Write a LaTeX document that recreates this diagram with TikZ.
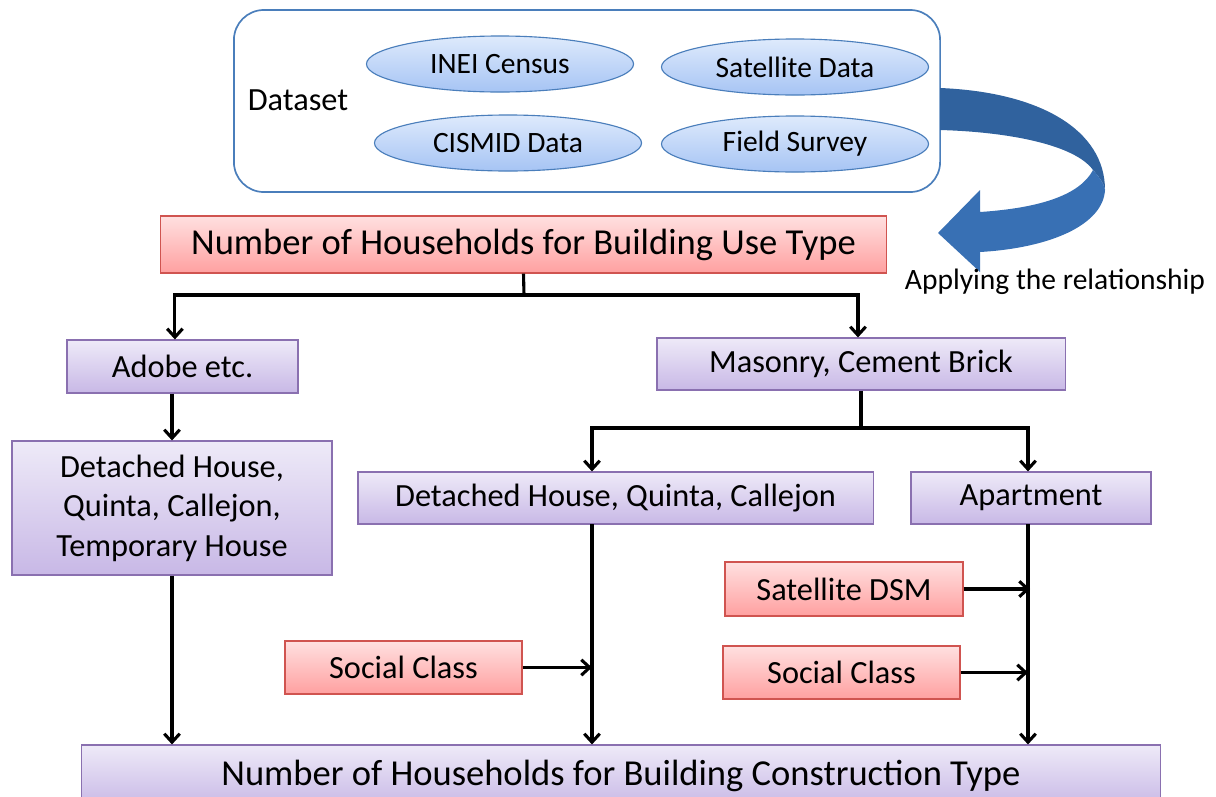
\documentclass[tikz,border=0pt]{standalone}
\usepackage{fontspec}
\setmainfont{Carlito}
\usetikzlibrary{shapes.geometric}
\usetikzlibrary{arrows.meta}
\definecolor{redtop}{RGB}{255,224,224}
\definecolor{redbot}{RGB}{255,160,160}
\definecolor{redline}{RGB}{208,84,80}
\definecolor{viotop}{RGB}{238,234,248}
\definecolor{viobot}{RGB}{200,184,230}
\definecolor{violine}{RGB}{138,112,176}
\definecolor{bluetop}{RGB}{222,234,252}
\definecolor{bluebot}{RGB}{166,196,244}
\definecolor{blueline}{RGB}{74,126,187}
\definecolor{bandback}{RGB}{48,98,158}
\definecolor{bandfront}{RGB}{56,112,180}
\tikzset{redbox/.style={draw=redline, line width=0.8pt, top color=redtop, bottom color=redbot, inner sep=0pt},
 viobox/.style={draw=violine, line width=0.8pt, top color=viotop, bottom color=viobot, inner sep=0pt, align=center},
 dataell/.style={ellipse, draw=blueline, line width=0.8pt, top color=bluetop, bottom color=bluebot, inner sep=0pt,
   minimum width=6.675cm, minimum height=1.4cm, font=\fontsize{21}{25}\selectfont},
 plain/.style={line width=2.2pt},
 flow/.style={line width=2.2pt, -{Straight Barb[length=6pt,width=11pt]}},
 big/.style={font=\fontsize{26}{31}\selectfont},
 mid/.style={font=\fontsize{23}{28}\selectfont},
 }

\begin{document}
\begin{tikzpicture}[x=0.025cm, y=-0.025cm]
        \useasboundingbox (0,0) rectangle (1216,796);

        % dataset
        \node[draw=blueline, line width=1.2pt, fill=white, rounded corners=0.75cm,
              minimum width=17.65cm, minimum height=4.55cm] (dataset) at (587,101) {};
        \node[mid] (dlabel) at (298,100) {Dataset};
        \node[dataell] (inei) at (500,64) {INEI Census};
        \node[dataell] (sat) at (795,67) {Satellite Data};
        \node[dataell] (cismid) at (508,143) {CISMID Data};
        \node[dataell] (field) at (795,144) {Field Survey};

        % curved arrow
        \fill[bandback] (940,88) .. controls (1040,92) and (1105,130) .. (1105,190)
              .. controls (1104,184) and (1100,178) .. (1093,170)
              .. controls (1075,145) and (1010,132) .. (940,130) -- cycle;
        \fill[bandfront] (980,212) .. controls (1040,208) and (1080,195) .. (1093,170)
              .. controls (1100,178) and (1104,184) .. (1105,190)
              .. controls (1103,225) and (1050,248) .. (980,252)
              -- (980,272) -- (938,233) -- (980,190) -- cycle;
        \node[font=\fontsize{21}{25}\selectfont] (apply) at (1055,282) {Applying the relationship};

        % boxes
        \node[redbox, big, minimum width=18.125cm, minimum height=1.425cm] (usetype) at (523.5,244.5)
              {Number of Households for Building Use Type};
        \node[viobox, mid, minimum width=5.775cm, minimum height=1.325cm] (adobe) at (182.5,366.5) {Adobe etc.};
        \node[viobox, mid, minimum width=10.2cm, minimum height=1.3cm] (masonry) at (861,364) {Masonry, Cement Brick};
        \node[viobox, mid, minimum width=8cm, minimum height=3.35cm] (tallbox) at (172,508)
              {Detached House,\\Quinta, Callejon,\\Temporary House};
        \node[viobox, mid, minimum width=12.875cm, minimum height=1.3cm] (detached) at (615.5,498)
              {Detached House, Quinta, Callejon};
        \node[viobox, mid, minimum width=6cm, minimum height=1.3cm] (apart) at (1031,498) {Apartment};
        \node[redbox, mid, minimum width=5.95cm, minimum height=1.35cm] (satdsm) at (844,589) {Satellite DSM};
        \node[redbox, mid, minimum width=5.925cm, minimum height=1.325cm] (socleft) at (403.5,667.5) {Social Class};
        \node[redbox, mid, minimum width=5.925cm, minimum height=1.325cm] (socright) at (841.5,672.5) {Social Class};
        \node[viobox, big, minimum width=26.95cm, minimum height=1.55cm] (construct) at (621,776)
              {Number of Households for Building Construction Type};

        % connectors
        \coordinate (split1) at (524,295);
        \coordinate (split2) at (861,428);
        \coordinate (dtrunk) at (592,524);
        \coordinate (atrunk) at (1028,524);
        \draw[plain] (usetype.south) -- (split1);
        \draw[flow] (split1) -| ([xshift=-0.19cm]adobe.north);
        \draw[flow] (split1) -| ([xshift=-0.075cm]masonry.north);
        \draw[flow] (adobe.south -| tallbox.north) -- (tallbox.north);
        \draw[plain] (masonry.south) -- (split2);
        \draw[flow] (split2) -| (dtrunk |- detached.north);
        \draw[flow] (split2) -| (atrunk |- apart.north);
        \draw[flow] (tallbox.south) -- (tallbox.south |- construct.north);
        \draw[flow] (dtrunk) -- (dtrunk |- construct.north);
        \draw[flow] (atrunk) -- (atrunk |- construct.north);
        \draw[flow] (satdsm.east) -- ([xshift=0.05cm]satdsm.east -| atrunk);
        \draw[flow] (socleft.east) -- (socleft.east -| dtrunk);
        \draw[flow] (socright.east) -- (socright.east -| atrunk);
\end{tikzpicture}
\end{document}
